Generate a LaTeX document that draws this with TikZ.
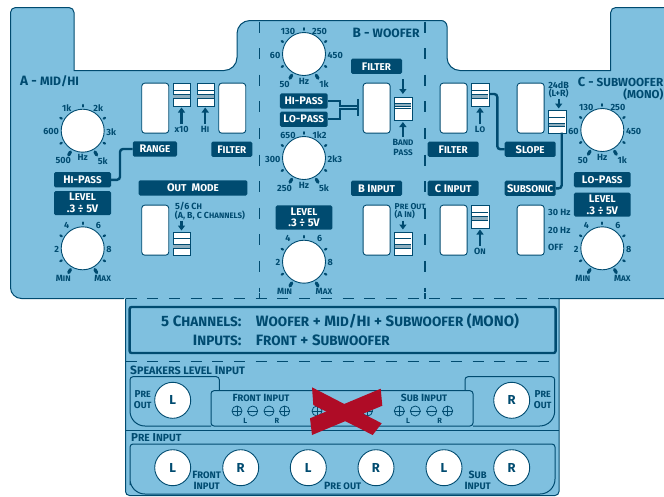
\documentclass[tikz,border=0pt]{standalone}
\usepackage{fontspec}
\setmainfont{Fira Sans}
\usetikzlibrary{calc,arrows.meta,positioning}
\definecolor{panelblue}{HTML}{7FC0DF}
\definecolor{navy}{HTML}{004B70}
\definecolor{stripe}{HTML}{8FAFBF}
\definecolor{rojo}{HTML}{AF0C26}
\newcommand{\cs}[1]{{\addfontfeature{Scale=0.9}#1}}
\tikzset{
  txt/.style={inner sep=0pt,text=navy,font=\bfseries\fontsize{9}{10}\selectfont,align=center},
  sectxt/.style={inner sep=0pt,text=navy,font=\bfseries\fontsize{13.5}{15}\selectfont},
  captxt/.style={inner sep=0pt,text=navy,font=\bfseries\fontsize{15}{16}\selectfont},
  tag/.style={fill=navy,text=white,rounded corners=1.5pt,inner sep=0pt,align=center,
    font=\bfseries\fontsize{11}{11.5}\selectfont,minimum width=51pt,minimum height=15.3pt},
  knobface/.style={circle,draw=navy,line width=0.9pt,fill=white,minimum size=43pt,inner sep=0pt},
  jack/.style={circle,draw=navy,line width=0.9pt,fill=white,minimum size=36pt,inner sep=0pt,text=navy,
    font=\bfseries\fontsize{13}{14}\selectfont},
  slot/.style={draw=navy,line width=0.9pt,fill=white,rounded corners=3pt,minimum width=27pt,minimum height=50pt,inner sep=0pt},
  slider/.style={draw=navy,line width=0.9pt,fill=white,minimum width=17.5pt,minimum height=23pt,inner sep=0pt},
  term/.style={circle,draw=navy,line width=0.8pt,minimum size=10pt,inner sep=0pt},
  wire/.style={navy,line width=2.4pt,rounded corners=3pt},
  outline/.style={navy,line width=1pt},
  thinbox/.style={navy,line width=1pt},
  vdash/.style={navy,line width=1.9pt,dash pattern=on 11pt off 15.6pt},
  hdash/.style={navy,line width=1pt,dash pattern=on 11pt off 10.7pt},
  pointer/.style={navy,line width=2.2pt,-{Triangle[width=7pt,length=5pt]}},
}
% knob: name, x, y, then the six labels round it
\newcommand{\knob}[9]{%
  \begin{scope}[shift={(#2,#3)}]
    \foreach \a in {-150,-90,-30,30,150}
      \draw[navy,line width=2.2pt,line cap=round] (\a:24.2) -- (\a:25.8);
    \foreach \a in {60,120}
      \draw[navy,line width=3.2pt,line cap=round] (\a:24.5) -- (\a:28);
    \node[knobface] (#1) at (0,0) {};
    \node[txt] (#1tl) at (-16,-23) {#4};
    \node[txt] (#1tr) at (15.6,-23) {#5};
    \node[txt,anchor=east] (#1l) at (-23.5,1) {#6};
    \node[txt,anchor=west] (#1r) at (23.5,1) {#7};
    \node[txt] (#1bl) at (-19.4,30) {#8};
    \node[txt] (#1br) at (20,30) {#9};
  \end{scope}}
% slider: name, x of left, y of top, dark lines and band below the top
\newcommand{\switch}[7]{%
  \begin{scope}[shift={(#2,#3)}]
    \node[slider,anchor=north west] (#1) at (0,0) {};
    \fill[stripe] (0.5,#6) rectangle (17,#7);
    \draw[navy,line width=0.9pt] (0.5,#4) -- (17,#4) (0.5,#5) -- (17,#5) (0.5,#7) -- (17,#7);
  \end{scope}}
\newcommand{\terminal}[3]{%
  \node[term] (#1) at (#2,411) {};
  \draw[navy,line width=0.8pt] (#1.west) -- (#1.east);
  \if#3+\draw[navy,line width=0.8pt] (#1.north) -- (#1.south);\fi}
\begin{document}
\begin{tikzpicture}[x=1pt,y=-1pt,line cap=butt]
  \useasboundingbox (0,0) rectangle (664,496);
  % panel body
  \fill[panelblue] (10.5,150) [rounded corners=5pt] -- (10.5,7.5) -- (74,7.5) [sharp corners] -- (74,70.5)
    [rounded corners=13pt] -- (237,70.5) -- (237,20.5) [rounded corners=6pt] -- (447,20.5)
    [rounded corners=13pt] -- (447,70.5) [sharp corners] -- (610.7,70.5) [rounded corners=5pt] -- (610.7,7.5)
    [sharp corners] -- (670,7.5) -- (670,298.5) -- (559,298.5) [rounded corners=4pt] -- (559,495.5) -- (125.5,495.5)
    [sharp corners] -- (125.5,298.5) [rounded corners=11pt] -- (10.5,298.5) -- cycle;
  \draw[outline] (124,298.5) [rounded corners=11pt] -- (10.5,298.5) [rounded corners=5pt] -- (10.5,7.5) -- (74,7.5)
    [sharp corners] -- (74,70.5) [rounded corners=13pt] -- (237,70.5) -- (237,20.5) [rounded corners=6pt] -- (447,20.5)
    [rounded corners=13pt] -- (447,70.5) [sharp corners] -- (610.7,70.5) [rounded corners=5pt] -- (610.7,7.5)
    [sharp corners] -- (670,7.5);
  \draw[outline] (670,298.5) -- (550,298.5) (559,298.5) [rounded corners=4pt] -- (559,495.5) -- (125.5,495.5)
    [sharp corners] -- (125.5,298.5);
  % dividers
  \draw[vdash] (259.5,21.5) -- (259.5,292);
  \draw[vdash] (425,21.5) -- (425,292);
  \draw[navy,line width=1.2pt] (259.5,293) -- (259.5,298.5) (425,293) -- (425,298.5);
  \draw[hdash] (125.5,298.5) -- (550,298.5);
  \draw[hdash] (125.5,361.7) -- (559,361.7);
  \draw[navy,line width=1pt] (125.5,430) -- (559,430);
  % section A
  \node[sectxt,anchor=west] (titlea) at (20,81.7) {A - \cs{MID/HI}};
  \knob{hzA}{82.7}{130.7}{1k}{2k}{600}{3k}{500}{5k}
  \node[txt] (hzAu) at (82.7,157.7) {Hz};
  \knob{lvA}{82.7}{248.3}{4}{6}{2}{8}{M\cs{IN}}{M\cs{AX}}
  \node[tag,minimum width=44.3pt] (rangetag) at (154.9,149) {R\cs{ANGE}};
  \node[tag,minimum width=41pt] (filterA) at (231.8,149.2) {F\cs{ILTER}};
  \node[tag,minimum width=57pt] (hipassA) at (82.5,179.8) {H\cs{I}-P\cs{ASS}};
  \node[tag,minimum width=57pt,minimum height=24pt] (levelA) at (82.5,203) {L\cs{EVEL}\\.3 ÷ 5V};
  \node[tag,minimum width=108.6pt] (outmode) at (193,187.9) {O\cs{UT}\ \ M\cs{ODE}};
  \node[slot,anchor=north west] (slotA1) at (141.3,82.7) {};
  \node[slot,anchor=north west] (slotA2) at (218.3,82.7) {};
  \node[slot,anchor=north west] (slotA3) at (141.3,204.7) {};
  \switch{swx}{172.7}{82.7}{8}{11.7}{12}{16}{}
  \switch{swhi}{196.5}{82.7}{8}{11.7}{12}{16}{}
  \switch{swout}{172.7}{231.7}{7}{13}{13}{16.5}{}
  \coordinate (ax) at (181.5,124);
  \coordinate (ahi) at (205.2,124);
  \draw[pointer] (ax) -- (181.5,107.5);
  \draw[pointer] (ahi) -- (205.2,107.5);
  \node[txt] (labx) at (181.7,129.5) {x10};
  \node[txt] (labhi) at (205,129.5) {H\cs{I}};
  \node[txt,anchor=west] (labch) at (175,206) {5/6 C\cs{H}};
  \node[txt,anchor=west] (labchan) at (174.7,215.3) {\fontsize{8.8}{9}\selectfont (A, B, C C\cs{HANNELS})};
  \draw[pointer] (181.5,220.5) -- (181.5,230.5);
  \draw[wire] (hipassA.east) -- (120,179.8) -- (120,149) -- (rangetag.west);
  % section B
  \node[sectxt,anchor=west] (titleb) at (352.3,33.3) {B - \cs{WOOFER}};
  \knob{hzB}{304}{54}{130}{250}{60}{450}{50}{1k}
  \node[txt] (hzBu) at (304,81) {Hz};
  \knob{hiB}{304}{158}{650}{1k2}{300}{2k3}{250}{5k}
  \node[txt] (hiBu) at (304,185) {Hz};
  \knob{lvB}{304}{261.7}{4}{6}{2}{8}{M\cs{IN}}{M\cs{AX}}
  \node[tag] (filterB) at (376.5,66.3) {F\cs{ILTER}};
  \node[tag,minimum width=47.7pt] (hipassB) at (303.8,101) {H\cs{I}-P\cs{ASS}};
  \node[tag,minimum width=47.7pt] (lopassB) at (303.8,119.2) {L\cs{O}-P\cs{ASS}};
  \node[tag] (inputB) at (376.5,188.3) {B I\cs{NPUT}};
  \node[tag,minimum width=56.6pt,minimum height=24.4pt] (levelB) at (304,217.5) {L\cs{EVEL}\\.3 ÷ 5V};
  \node[slot,anchor=north west] (slotB1) at (362.7,82.7) {};
  \node[slot,anchor=north west] (slotB2) at (362.7,204.7) {};
  \switch{swband}{394.3}{96.7}{6.5}{12}{7}{10}{}
  \switch{swpre}{394.3}{231.7}{7}{13}{13}{16.5}{}
  \draw[pointer] (402.9,79) -- (402.9,94);
  \draw[pointer] (402.9,137) -- (402.9,122);
  \node[txt] (labband) at (403,147.3) {B\cs{AND}\\[-0.5pt]P\cs{ASS}};
  \node[txt,anchor=west,font=\bfseries\fontsize{8.5}{9}\selectfont] (labpre) at (394.5,206.7) {P\cs{RE} O\cs{UT}};
  \node[txt,anchor=west,font=\bfseries\fontsize{8.5}{9}\selectfont] (labain) at (394.5,215) {(A I\cs{N})};
  \draw[pointer] (402.9,220.5) -- (402.9,229.5);
  \coordinate (bara) at (358,99);
  \coordinate (barb) at (358,116);
  \coordinate (baram) at (357,105.7);
  \coordinate (barbm) at (357,109.3);
  \draw[navy,line width=2.4pt] (bara) -- (barb);
  \draw[navy,line width=1.9pt] (hipassB.east) -- (340,101) -- (340,105.7) -- (baram);
  \draw[navy,line width=1.9pt] (lopassB.east) -- (340,119.2) -- (340,109.3) -- (barbm);
  % section C
  \node[sectxt,anchor=east,font=\bfseries\fontsize{13}{15}\selectfont] (titlec) at (663.5,81.7) {C - \cs{SUBWOOFER}};
  \node[txt,anchor=east,font=\bfseries\fontsize{11.5}{12}\selectfont] (titlemono) at (663.5,94) {(MONO)};
  \knob{hzC}{602.3}{130}{130}{250}{60}{450}{50}{1k}
  \node[txt] (hzCu) at (602.3,157.7) {Hz};
  \knob{lvC}{602.3}{248.3}{4}{6}{2}{8}{M\cs{IN}}{M\cs{AX}}
  \node[tag] (filterC) at (453.2,149.2) {F\cs{ILTER}};
  \node[tag] (slopetag) at (530.2,149.2) {S\cs{LOPE}};
  \node[tag] (inputC) at (453.2,188.3) {C I\cs{NPUT}};
  \node[tag] (subsonic) at (530.2,188.3) {S\cs{UBSONIC}};
  \node[tag,minimum width=56.7pt] (lopassC) at (602.3,179.7) {L\cs{O}-P\cs{ASS}};
  \node[tag,minimum width=56.7pt,minimum height=24pt] (levelC) at (602.3,204.7) {L\cs{EVEL}\\.3 ÷ 5V};
  \node[slot,anchor=north west] (slotC1) at (439.7,82.7) {};
  \node[slot,anchor=north west] (slotC2) at (516.7,82.7) {};
  \node[slot,anchor=north west] (slotC3) at (439.7,204.7) {};
  \node[slot,anchor=north west] (slotC4) at (516.7,204.7) {};
  \switch{swlo}{471.3}{82.7}{8}{11.7}{12}{16}{}
  \switch{swon}{471.3}{204.7}{8}{11.7}{12}{16}{}
  \switch{swslope}{548.3}{110}{7}{13}{13}{16.5}{}
  \draw[pointer] (480,124) -- (480,107.5);
  \draw[pointer] (480,246) -- (480,229.5);
  \node[txt] (lablo) at (480,129.5) {L\cs{O}};
  \node[txt] (labon) at (480,251.7) {O\cs{N}};
  \node[txt] (labdb) at (558.7,85) {24dB};
  \node[txt] (lablr) at (558.7,93.3) {(L+R)};
  \draw[pointer] (558.7,99) -- (558.7,108.5);
  \node[txt,anchor=west] (lab30) at (548,212.7) {30 Hz};
  \node[txt,anchor=west] (lab20) at (548,230) {20 Hz};
  \node[txt,anchor=west] (laboff) at (548,247) {OFF};
  \coordinate (wlo) at (swlo.east |- 0,94);
  \draw[wire] (wlo) -- (497.3,94) -- (497.3,149.2) -- (slopetag.west);
  \coordinate (wsl) at (561.7,132.7);
  \draw[wire] (wsl) -- (561.7,188.3) -- (subsonic.east);
  % channel plate
  \node[draw=navy,line width=2.4pt,rounded corners=2pt,minimum width=426pt,minimum height=46pt,inner sep=0pt] (plate) at (342.6,330) {};
  \node[captxt,anchor=east] (ch5) at (241.7,321) {5 C\cs{HANNELS}:};
  \node[captxt,anchor=west] (chlist) at (255.7,321) {W\cs{OOFER} + M\cs{ID}/H\cs{I} + S\cs{UBWOOFER} (MONO)};
  \node[captxt,anchor=east] (inp) at (241.7,340.7) {I\cs{NPUTS}:};
  \node[captxt,anchor=west] (inplist) at (255.7,340.7) {F\cs{RONT} + S\cs{UBWOOFER}};
  % speakers level input
  \node[txt,anchor=west,font=\bfseries\fontsize{12}{13}\selectfont] (spk) at (130,370) {S\cs{PEAKERS LEVEL} I\cs{NPUT}};
  \draw[thinbox] (211,426) [rounded corners=15pt] -- (130,426) [rounded corners=3pt] -- (130,376.7) -- (219.3,376.7) [sharp corners] -- (219.3,390.7);
  \draw[thinbox] (473,426) [rounded corners=15pt] -- (554.7,426) [rounded corners=3pt] -- (554.7,376.7) -- (465,376.7) [sharp corners] -- (465,390.7);
  \draw[thinbox,rounded corners=3pt] (211,390.7) rectangle (473,426);
  \node[jack] (spkl) at (172.7,400.3) {L};
  \node[jack] (spkr) at (511.7,400.3) {R};
  \node[txt,font=\bfseries\fontsize{10}{11}\selectfont] (prel) at (142.7,399.7) {P\cs{RE}\\O\cs{UT}};
  \node[txt,font=\bfseries\fontsize{10}{11}\selectfont] (prer) at (542.7,399.7) {P\cs{RE}\\O\cs{UT}};
  \node[txt,font=\bfseries\fontsize{10.4}{11}\selectfont] (fronti) at (261,397.7) {F\cs{RONT} I\cs{NPUT}};
  \node[txt,font=\bfseries\fontsize{10.4}{11}\selectfont] (subi) at (424,397.7) {S\cs{UB} I\cs{NPUT}};
  \terminal{fa}{237}{+}\terminal{fb}{252.7}{-}\terminal{fc}{269}{-}\terminal{fd}{284.7}{+}
  \terminal{ma}{317}{+}\terminal{mb}{334}{-}\terminal{mc}{351}{-}\terminal{md}{367.5}{+}
  \terminal{sa}{399.3}{+}\terminal{sb}{415.3}{-}\terminal{sc}{431.7}{-}\terminal{sd}{447.7}{+}
  \node[txt,font=\bfseries\fontsize{7.5}{8}\selectfont] (fl) at (245.3,421.3) {L};
  \node[txt,font=\bfseries\fontsize{7.5}{8}\selectfont] (fr) at (277,421.3) {R};
  \node[txt,font=\bfseries\fontsize{7.5}{8}\selectfont] (sl) at (408,421.3) {L};
  \node[txt,font=\bfseries\fontsize{7.5}{8}\selectfont] (sr) at (439.7,421.3) {R};
  \fill[rojo] (312,387.3) -- (381.7,423.3) -- (372.7,435) -- (313.3,405) -- cycle;
  \fill[rojo] (380.7,388.7) -- (382.3,405.7) -- (312,435) -- (310,418.3) -- cycle;
  % pre input
  \node[txt,anchor=west,font=\bfseries\fontsize{11.5}{12}\selectfont] (prein) at (131,437.7) {P\cs{RE} I\cs{NPUT}};
  \draw[thinbox] (130,470) [rounded corners=3pt] -- (130,444) -- (555,444) [rounded corners=15pt] -- (555,494) -- (130,494) -- cycle;
  \foreach \nm/\x/\t in {pa/172.7/L,pb/240.7/R,pc/308.3/L,pd/376/R,pe/444/L,pf/511.7/R}
    \node[jack] (\nm) at (\x,467.7) {\t};
  \node[txt,font=\bfseries\fontsize{10.5}{11}\selectfont] (fronta) at (206.7,480.5) {F\cs{RONT}\\I\cs{NPUT}};
  \node[txt,font=\bfseries\fontsize{10.5}{11}\selectfont] (preo) at (342.7,486) {P\cs{RE OUT}};
  \node[txt,font=\bfseries\fontsize{10.5}{11}\selectfont] (suba) at (477.7,480.5) {S\cs{UB}\\I\cs{NPUT}};
\end{tikzpicture}
\end{document}
